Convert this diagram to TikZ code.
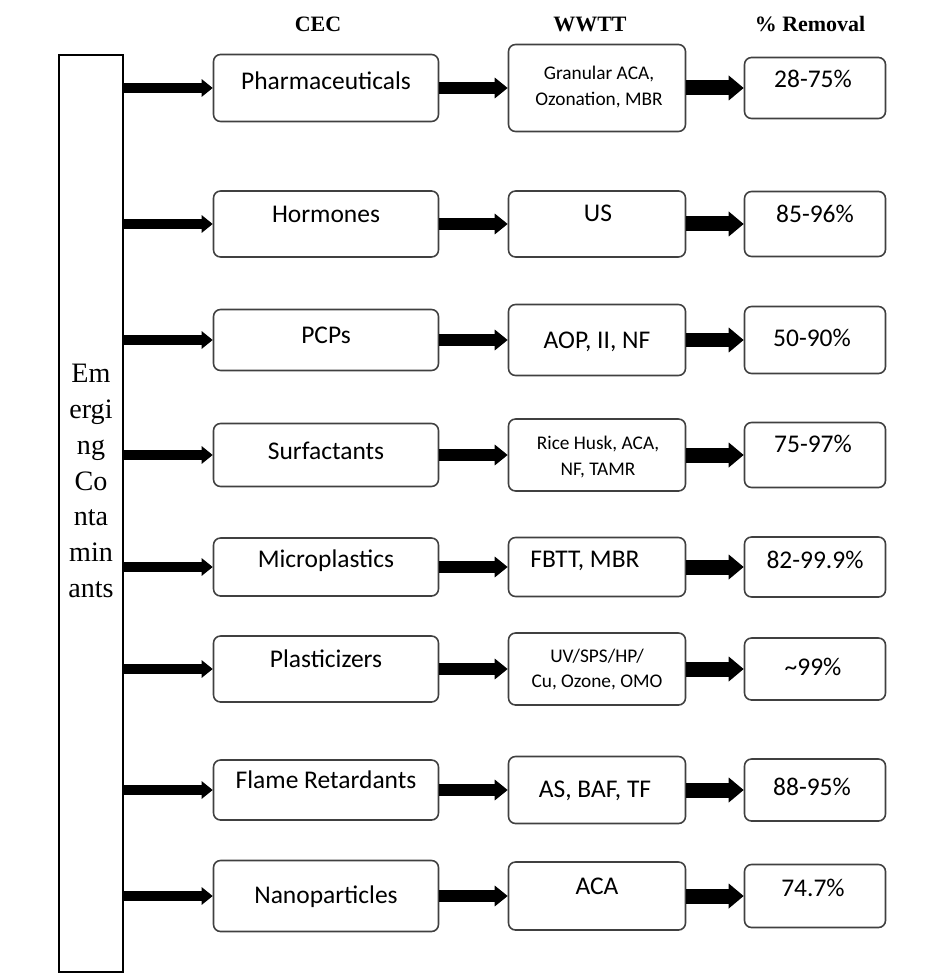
\documentclass[tikz,border=0pt]{standalone}
\usepackage{fontspec}
\setmainfont{Carlito}
\newfontfamily\serifhead{Liberation Serif}
\usetikzlibrary{arrows.meta,positioning}

\begin{document}
\begin{tikzpicture}[x=0.02cm,y=-0.02cm,
	box/.style={draw=black!75,line width=0.9pt,rounded corners=0.14cm,inner sep=0pt},
	cecbox/.style={box,minimum width=4.5cm},
	wwttbox/.style={box,minimum width=3.54cm},
	rembox/.style={box,minimum width=2.82cm},
	txt/.style={anchor=base,inner sep=0pt,font=\fontsize{14.5}{17}\selectfont},
	smalltxt/.style={anchor=base,inner sep=0pt,font=\fontsize{11}{13}\selectfont},
	head/.style={anchor=base,inner sep=0pt,font=\serifhead\bfseries\fontsize{12.5}{15}\selectfont},
	arrl/.style={line width=0.2cm,-{Triangle[length=0.22cm,width=0.34cm]}},
	arrm/.style={line width=0.24cm,-{Triangle[length=0.26cm,width=0.4cm]}},
	arrr/.style={line width=0.3cm,-{Triangle[length=0.3cm,width=0.48cm]}}]
	\useasboundingbox (0,0) rectangle (931,979);
	
	% column heads
	\node[head] (cechead) at (318,32) {CEC};
	\node[head] (wwtthead) at (590,32) {WWTT};
	\node[head] (remhead) at (810,32) {\% Removal};
	
	% left box
	\node[draw,line width=1.2pt,minimum width=1.28cm,minimum height=18.34cm,inner sep=0pt] (ec) at (91,513.5) {};
	\node[align=center,inner sep=0pt,font=\serifhead\fontsize{16}{20.4}\selectfont] (ectxt) at (91,481) {Em\\ergi\\ng\\Co\\nta\\min\\ants};
	
	% row 1
	\node[cecbox,minimum height=1.34cm] (pharm) at (326,88) {};
	\node[txt] (pharmtxt) at (326,90) {Pharmaceuticals};
	\node[wwttbox,minimum height=1.74cm] (pharmtt) at (597,88) {};
	\node[smalltxt] (pharmtta) at (599,80) {Granular ACA,};
	\node[smalltxt] (pharmttb) at (599,106) {Ozonation, MBR};
	\node[rembox,minimum height=1.22cm] (pharmrem) at (815,88) {};
	\node[txt] (pharmremtxt) at (813,88) {28-75\%};
	\draw[arrl] (ec.east |- pharm) -- (pharm.west);
	\draw[arrm] (pharm) -- (pharmtt);
	\draw[arrr] (pharmtt) -- (pharmrem);
	
	% row 2
	\node[cecbox,minimum height=1.32cm] (horm) at (326,224) {};
	\node[txt] (hormtxt) at (326,223) {Hormones};
	\node[wwttbox,minimum height=1.32cm] (hormtt) at (597,224) {};
	\node[txt] (hormtttxt) at (598,222) {US};
	\node[rembox,minimum height=1.3cm] (hormrem) at (815,224) {};
	\node[txt] (hormremtxt) at (815,223) {85-96\%};
	\draw[arrl] (ec.east |- horm) -- (horm.west);
	\draw[arrm] (horm) -- (hormtt);
	\draw[arrr] (hormtt) -- (hormrem);
	
	% row 3
	\node[cecbox,minimum height=1.22cm] (pcp) at (326,340) {};
	\node[txt] (pcptxt) at (326,344) {PCPs};
	\node[wwttbox,minimum height=1.42cm] (pcptt) at (597,340) {};
	\node[txt] (pcptttxt) at (597,349) {AOP, II, NF};
	\node[rembox,minimum height=1.34cm] (pcprem) at (815,340) {};
	\node[txt] (pcpremtxt) at (812,347) {50-90\%};
	\draw[arrl] (ec.east |- pcp) -- (pcp.west);
	\draw[arrm] (pcp) -- (pcptt);
	\draw[arrr] (pcptt) -- (pcprem);
	
	% row 4
	\node[cecbox,minimum height=1.26cm] (surf) at (326,455) {};
	\node[txt] (surftxt) at (326,459) {Surfactants};
	\node[wwttbox,minimum height=1.44cm] (surftt) at (597,455) {};
	\node[smalltxt] (surftta) at (598,449) {Rice Husk, ACA,};
	\node[smalltxt] (surfttb) at (598,475) {NF, TAMR};
	\node[rembox,minimum height=1.3cm] (surfrem) at (815,455) {};
	\node[txt] (surfremtxt) at (813,452) {75-97\%};
	\draw[arrl] (ec.east |- surf) -- (surf.west);
	\draw[arrm] (surf) -- (surftt);
	\draw[arrr] (surftt) -- (surfrem);
	
	% row 5
	\node[cecbox,minimum height=1.16cm] (micro) at (326,567) {};
	\node[txt] (microtxt) at (326,567) {Microplastics};
	\node[wwttbox,minimum height=1.18cm] (micrott) at (597,567) {};
	\node[txt,anchor=base west] (microtttxt) at (530,567) {FBTT, MBR};
	\node[rembox,minimum height=1.2cm] (microrem) at (815,567) {};
	\node[txt] (microremtxt) at (815,568) {82-99.9\%};
	\draw[arrl] (ec.east |- micro) -- (micro.west);
	\draw[arrm] (micro) -- (micrott);
	\draw[arrr] (micrott) -- (microrem);
	
	% row 6
	\node[cecbox,minimum height=1.32cm] (plast) at (326,669) {};
	\node[txt] (plasttxt) at (326,667) {Plasticizers};
	\node[wwttbox,minimum height=1.44cm] (plasttt) at (597,669) {};
	\node[smalltxt] (plasttta) at (597,662) {UV/SPS/HP/};
	\node[smalltxt] (plastttb) at (597,687) {Cu, Ozone, OMO};
	\node[rembox,minimum height=1.24cm] (plastrem) at (815,669) {};
	\node[txt] (plastremtxt) at (813,675) {\textasciitilde 99\%};
	\draw[arrl] (ec.east |- plast) -- (plast.west);
	\draw[arrm] (plast) -- (plasttt);
	\draw[arrr] (plasttt) -- (plastrem);
	
	% row 7
	\node[cecbox,minimum height=1.2cm] (flame) at (326,790) {};
	\node[txt] (flametxt) at (326,788) {Flame Retardants};
	\node[wwttbox,minimum height=1.34cm] (flamett) at (597,790) {};
	\node[txt] (flametttxt) at (595,797) {AS, BAF, TF};
	\node[rembox,minimum height=1.24cm] (flamerem) at (815,790) {};
	\node[txt] (flameremtxt) at (812,795) {88-95\%};
	\draw[arrl] (ec.east |- flame) -- (flame.west);
	\draw[arrm] (flame) -- (flamett);
	\draw[arrr] (flamett) -- (flamerem);
	
	% row 8
	\node[cecbox,minimum height=1.42cm] (nano) at (326,896) {};
	\node[txt] (nanotxt) at (326,903) {Nanoparticles};
	\node[wwttbox,minimum height=1.36cm] (nanott) at (597,896) {};
	\node[txt] (nanotttxt) at (597,894) {ACA};
	\node[rembox,minimum height=1.26cm] (nanorem) at (815,896) {};
	\node[txt] (nanoremtxt) at (813,896) {74.7\%};
	\draw[arrl] (ec.east |- nano) -- (nano.west);
	\draw[arrm] (nano) -- (nanott);
	\draw[arrr] (nanott) -- (nanorem);
\end{tikzpicture}
\end{document}
